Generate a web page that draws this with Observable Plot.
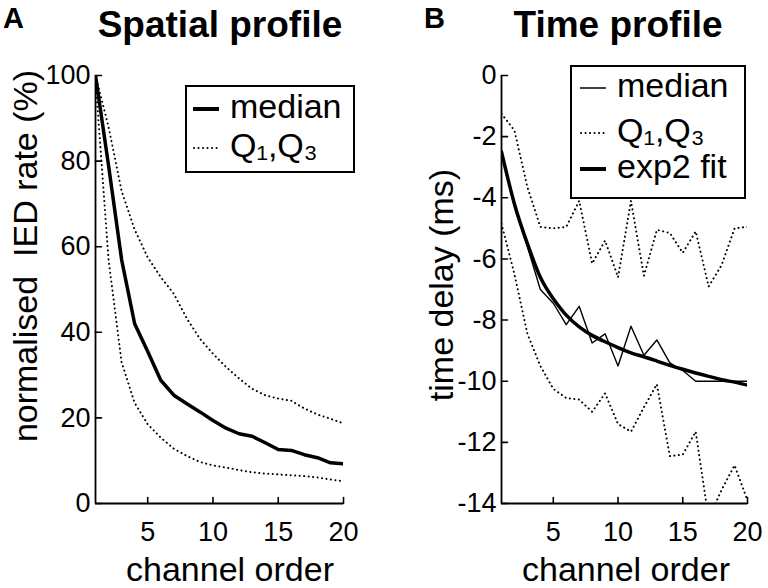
<!DOCTYPE html>
<html>
<head>
<meta charset="utf-8">
<script src="https://cdn.jsdelivr.net/npm/d3@7"></script>
<script src="https://cdn.jsdelivr.net/npm/@observablehq/plot@0.6"></script>
<style>
body { margin: 0; background: #fff; font-family: "Liberation Sans", Arial, sans-serif; color: #000; }
#fig { position: relative; width: 768px; height: 588px; overflow: hidden; }
.panel { position: absolute; top: 0; width: 384px; height: 588px; }
.abs { position: absolute; white-space: nowrap; line-height: 1; }
.letter { font-weight: bold; font-size: 29px; }
.title { font-weight: bold; font-size: 37px; transform: translateX(-50%); }
.xlab { font-size: 34px; transform: translateX(-50%); }
.ylab { font-size: 34px; transform: translate(-50%, -50%) rotate(-90deg); }
.legend { position: absolute; border: 2px solid #000; background: #fff; box-sizing: border-box; font-size: 34px; }
.swatch { display: inline-block; width: 26px; height: 6px; margin-right: 11px; vertical-align: middle; }
</style>
</head>
<body>
<div id="fig">
  <div class="abs letter" style="left:3px; top:4px">A</div>
  <div class="abs title" style="left:220px; top:6px">Spatial profile</div>
  <div class="abs letter" style="left:424px; top:4px">B</div>
  <div class="abs title" style="left:618px; top:6px">Time profile</div>
  <div id="chartA" class="panel" style="left:0"></div>
  <div id="chartB" class="panel" style="left:384px"></div>
  <div class="abs ylab" style="left:25px; top:256px">normalised&nbsp; IED rate (%)</div>
  <div class="abs ylab" style="left:441px; top:285px">time delay (ms)</div>
  <div class="abs xlab" style="left:230px; top:552px">channel order</div>
  <div class="abs xlab" style="left:626px; top:552px">channel order</div>
  <div class="legend" style="left:185px; top:85px; width:170px; height:88px">
    <div class="abs" style="left:6px; top:2px"><svg class="swatch"><line x1="0" x2="26" y1="3" y2="3" stroke="#000" stroke-width="4"/></svg>median</div>
    <div class="abs" style="left:6px; top:41px"><svg class="swatch"><line x1="1" x2="26" y1="3" y2="3" stroke="#000" stroke-width="2" stroke-linecap="round" stroke-dasharray="0.1,4.4"/></svg>Q₁,Q₃</div>
  </div>
  <div class="legend" style="left:570px; top:65px; width:176px; height:134px">
    <div class="abs" style="left:8px; top:1px"><svg class="swatch"><line x1="0" x2="26" y1="3" y2="3" stroke="#000" stroke-width="1.5"/></svg>median</div>
    <div class="abs" style="left:8px; top:46px"><svg class="swatch"><line x1="1" x2="26" y1="3" y2="3" stroke="#000" stroke-width="2" stroke-linecap="round" stroke-dasharray="0.1,4.4"/></svg>Q₁,Q₃</div>
    <div class="abs" style="left:8px; top:82px"><svg class="swatch"><line x1="0" x2="26" y1="3" y2="3" stroke="#000" stroke-width="4"/></svg>exp2 fit</div>
  </div>
</div>
<script>
// channel order (x) shared by both panels
const channels = [1, 2, 3, 4, 5, 6, 7, 8, 9, 10, 11, 12, 13, 14, 15, 16, 17, 18, 19, 20]
const xTicks = [5, 10, 15, 20]

// A: spatial profile, normalised IED rate (%)
const spatialMedian = [100, 79, 57, 42, 35.5, 28.8, 25.3, 23.3, 21.4, 19.4, 17.6, 16.3, 15.7, 14.2, 12.6, 12.4, 11.4, 10.7, 9.5, 9.3]
const spatialQ1 = [99, 57, 33, 23.5, 18.5, 15.4, 12.8, 11.1, 9.7, 8.9, 8.4, 7.8, 7.3, 7.0, 6.8, 6.6, 6.4, 6.1, 5.6, 5.2]
const spatialQ3 = [100, 88, 73, 64, 57.5, 52.9, 49.0, 43.2, 38.5, 35.0, 31.9, 29.2, 26.8, 25.3, 24.5, 24.0, 22.2, 20.8, 19.8, 18.7]
const spatialYTicks = [0, 20, 40, 60, 80, 100]

// B: time profile, time delay (ms)
const timeMedian = [-2.5, -4.3, -5.6, -7.0, -7.45, -8.15, -7.55, -8.75, -8.45, -9.5, -8.2, -9.15, -8.65, -9.4, -9.65, -10.0, -10.0, -10.0, -10.0, -10.0]
const timeFit = [-2.5, -4.2, -5.5, -6.6, -7.3, -7.84, -8.22, -8.5, -8.71, -8.9, -9.07, -9.2, -9.34, -9.48, -9.61, -9.73, -9.84, -9.95, -10.03, -10.13]
const timeQ1 = [-4.85, -6.5, -8.45, -9.5, -10.25, -10.55, -10.6, -11.0, -10.4, -11.4, -11.65, -10.85, -10.1, -12.45, -12.4, -11.65, -14.5, -13.55, -12.75, -13.9]
const timeQ3 = [-1.25, -1.8, -3.65, -4.95, -5.0, -4.95, -4.1, -6.15, -5.4, -6.6, -4.1, -6.55, -5.05, -5.15, -5.8, -5.1, -6.9, -6.2, -5.0, -4.95]
const timeYTicks = [-14, -12, -10, -8, -6, -4, -2, 0]

const font = '"Liberation Sans", Arial, sans-serif'
const W = 384, H = 588, MT = 75, MB = 85
const dots = {strokeWidth: 2, strokeDasharray: '0.1,4.4', strokeLinecap: 'round', clip: true}
// a plain stroke from the anchor point, used for the inward ticks
const tickShape = {draw(context, l) { context.moveTo(0, 0); context.lineTo(0, -l) }}

// matlab style: inward ticks, no box
function axes(yDomain, yTicks) {
  return [
    Plot.axisX({ticks: xTicks, tickSize: 0, tickPadding: 18, label: null, fontSize: 27}),
    Plot.axisY({ticks: yTicks, tickSize: 0, tickPadding: 5, label: null, fontSize: 27, tickFormat: d => String(d)}),
    Plot.vector(xTicks, {x: d => d, y: yDomain[0], length: 6, rotate: 0, shape: tickShape, anchor: 'start', strokeWidth: 1.6}),
    Plot.vector(yTicks, {x: 1, y: d => d, length: 6, rotate: 90, shape: tickShape, anchor: 'start', strokeWidth: 1.6})
  ]
}

function panel(yDomain, yTicks, ml, mr, lines) {
  return Plot.plot({
    width: W,
    height: H,
    marginTop: MT,
    marginBottom: MB,
    marginLeft: ml,
    marginRight: mr,
    style: {fontFamily: font, background: 'transparent', color: '#000'},
    x: {domain: [1, 20]},
    y: {domain: yDomain},
    marks: [
      ...axes(yDomain, yTicks),
      Plot.ruleX([1], {strokeWidth: 1.8}),
      Plot.ruleY([yDomain[0]], {strokeWidth: 1.8}),
      ...lines
    ]
  })
}

let chartA = panel([0, 100], spatialYTicks, 95, 41, [
  Plot.lineY(spatialQ1, {x: channels, ...dots}),
  Plot.lineY(spatialQ3, {x: channels, ...dots}),
  Plot.lineY(spatialMedian, {x: channels, strokeWidth: 3.5, clip: true})
])

let chartB = panel([-14, 0], timeYTicks, 117, 21, [
  Plot.lineY(timeQ1, {x: channels, ...dots}),
  Plot.lineY(timeQ3, {x: channels, ...dots}),
  Plot.lineY(timeMedian, {x: channels, strokeWidth: 1.4, clip: true}),
  Plot.lineY(timeFit, {x: channels, strokeWidth: 3.5, curve: 'natural', clip: true})
])

d3.select('#chartA').append(() => chartA)
d3.select('#chartB').append(() => chartB)
</script>
</body>
</html>
